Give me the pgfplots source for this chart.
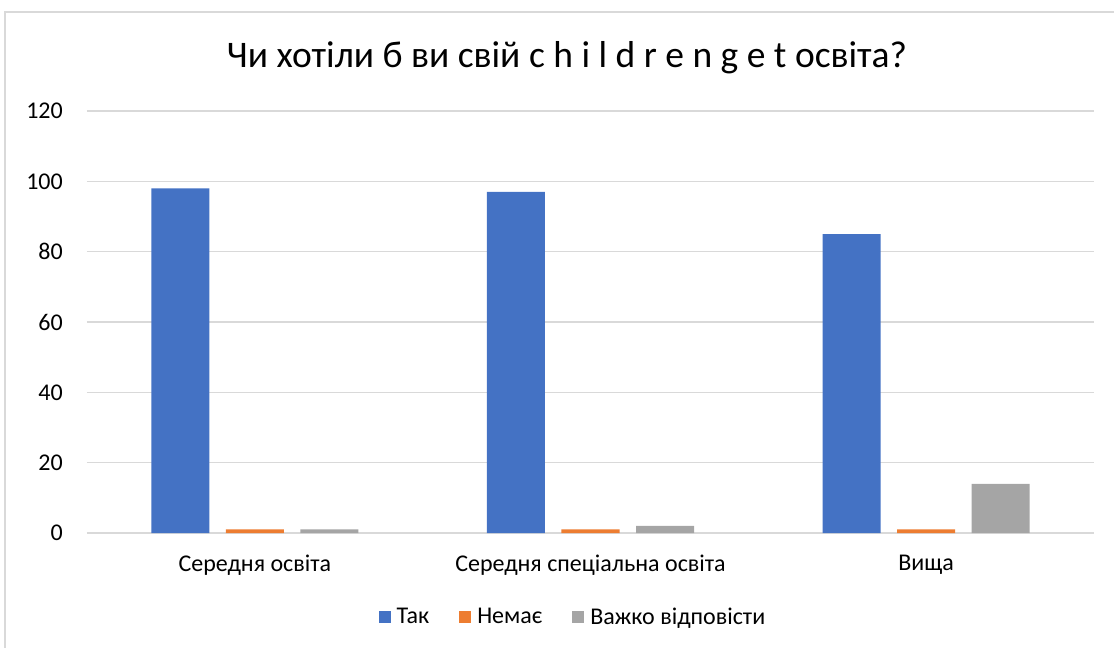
\documentclass[border=0pt]{standalone}
\usepackage{pgfplots}
\pgfplotsset{compat=1.18}
\usepackage{fontspec}
\setmainfont{Carlito}
\definecolor{cTak}{HTML}{4472C4}
\definecolor{cNe}{HTML}{ED7D31}
\definecolor{cVazh}{HTML}{A5A5A5}
\definecolor{cGrid}{HTML}{D9D9D9}
\begin{document}
\begin{tikzpicture}[x=1pt,y=1pt]
\useasboundingbox (0,0) rectangle (1114,648);
% chart frame (right and bottom edges cut off)
\draw[cGrid,line width=1.2pt] (5,0) -- (5,636) -- (1114,636);
\node[font=\fontsize{37.5}{42}\selectfont,anchor=base] at (567,580) {Чи хотіли б ви свій c h i l d r e n g e t освіта?};
\begin{axis}[
  at={(87pt,115pt)}, anchor=south west,
  scale only axis, width=1007pt, height=422pt,
  ybar=16.5pt, bar width=58pt,
  xmin=-0.5, xmax=2.5, ymin=0, ymax=120,
  ytick={0,20,...,120},
  xtick={0,1,2},
  xticklabels={Середня освіта, Середня спеціальна освіта, Вища},
  axis line style={draw=none},
  major tick length=0pt,
  ymajorgrids, grid style={cGrid,line width=1.4pt},
  tick label style={font=\fontsize{24}{28}\selectfont},
  /pgf/number format/assume math mode=true,
  yticklabel style={inner sep=0pt,xshift=-24pt},
  xticklabel style={inner sep=0pt,anchor=north,yshift=-22pt},
  legend style={at={(0.4826,-0.199)},anchor=center,draw=none,
    legend columns=3,font=\fontsize{24}{28}\selectfont,
    /tikz/every odd column/.append style={column sep=4pt},
    /tikz/every even column/.append style={column sep=28pt}},
  legend image code/.code={\fill[#1] (0pt,-6pt) rectangle (12pt,6pt);},
  every axis plot/.append style={draw=none},
]
\addplot[fill=cTak] coordinates {(0,98) (1,97) (2,85)};
\addplot[fill=cNe] coordinates {(0,1) (1,1) (2,1)};
\addplot[fill=cVazh] coordinates {(0,1) (1,2) (2,14)};
\legend{Так, Немає, Важко відповісти}
\end{axis}
\end{tikzpicture}
\end{document}
